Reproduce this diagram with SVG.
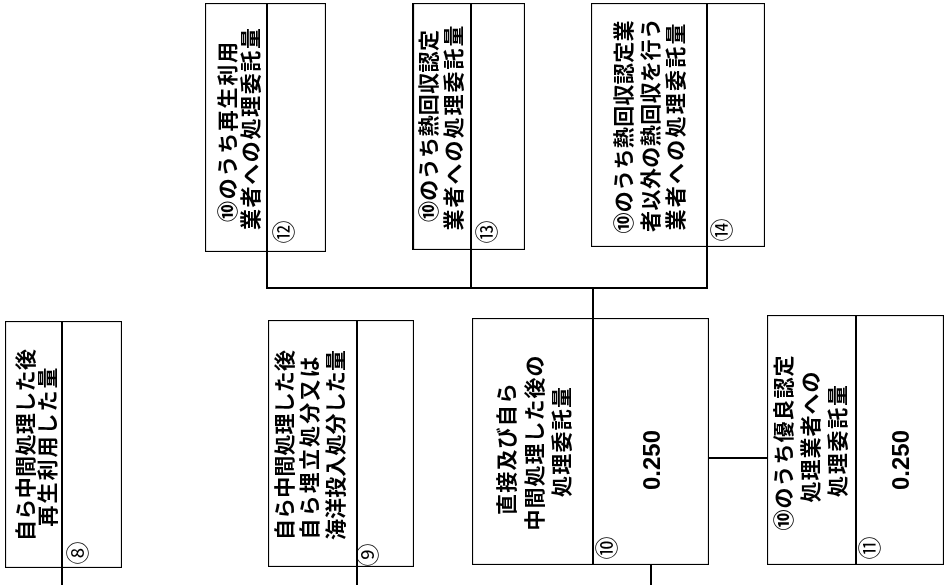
<svg xmlns="http://www.w3.org/2000/svg" width="947" height="585" viewBox="0 0 947 585">
<defs>
<filter id="gray" x="0" y="0" width="1" height="1"><feOffset dx="0" dy="0"/></filter>
</defs>
<style>
.box{fill:none;stroke:#000;stroke-width:2.2}
.ln{fill:none;stroke:#000;stroke-width:2}
.node{opacity:0.995}
.lb{font-family:"Noto Sans CJK JP","Noto Sans CJK SC",sans-serif;font-size:21px;font-weight:bold;fill:#000;text-anchor:middle;dominant-baseline:central}
.num{font-family:"Noto Sans CJK JP","Noto Sans CJK SC",sans-serif;font-size:23px;fill:#000;text-anchor:middle;dominant-baseline:central}
.val{font-family:"Liberation Sans",Arial,sans-serif;font-size:24px;font-weight:bold;fill:#000;text-anchor:middle;dominant-baseline:central}
</style>
<rect width="947" height="585" fill="#fff"/>
<g id="connectors">
<path class="ln" d="M62 568V585"/>
<path class="ln" d="M357 567V585"/>
<path class="ln" d="M651 565V585"/>
<path class="ln" d="M709 458H767"/>
<path class="ln" d="M267 252V288H707V247"/>
<path class="ln" d="M471 250V288"/>
<path class="ln" d="M593 288V318"/>
</g>
<g id="node8" class="node" filter="url(#gray)">
<rect class="box" x="5" y="321" width="117" height="247"/>
<path class="ln" d="M62 321V568"/>
<text class="lb" transform="translate(24,445) rotate(-90)" textLength="192" lengthAdjust="spacing">自ら中間処理した後</text>
<text class="lb" transform="translate(46,447) rotate(-90)" textLength="159" lengthAdjust="spacing">再生利用した量</text>
<text class="num" transform="translate(76,553) rotate(-90)">⑧</text>
</g>
<g id="node9" class="node" filter="url(#gray)">
<rect class="box" x="268" y="320" width="146" height="247"/>
<path class="ln" d="M357 320V567"/>
<text class="lb" transform="translate(283,445) rotate(-90)" textLength="190" lengthAdjust="spacing">自ら中間処理した後</text>
<text class="lb" transform="translate(308,448) rotate(-90)" textLength="183" lengthAdjust="spacing">自ら埋立処分又は</text>
<text class="lb" transform="translate(334,445) rotate(-90)" textLength="190" lengthAdjust="spacing">海洋投入処分した量</text>
<text class="num" transform="translate(366,555) rotate(-90)">⑨</text>
</g>
<g id="node10" class="node" filter="url(#gray)">
<rect class="box" x="472" y="318" width="237" height="247"/>
<path class="ln" d="M593 318V565"/>
<text class="lb" transform="translate(505,449) rotate(-90)" textLength="132" lengthAdjust="spacing">直接及び自ら</text>
<text class="lb" transform="translate(533,443) rotate(-90)" textLength="175" lengthAdjust="spacing">中間処理した後の</text>
<text class="lb" transform="translate(560,442) rotate(-90)" textLength="110" lengthAdjust="spacing">処理委託量</text>
<text class="val" transform="translate(651,460) rotate(-90)">0.250</text>
<text class="num" transform="translate(605,548) rotate(-90)">⑩</text>
</g>
<g id="node11" class="node" filter="url(#gray)">
<rect class="box" x="767" y="315" width="177" height="250"/>
<path class="ln" d="M856 315V565"/>
<text class="lb" transform="translate(782,443) rotate(-90)" textLength="175" lengthAdjust="spacing">⑩のうち優良認定</text>
<text class="lb" transform="translate(809,437) rotate(-90)" textLength="131" lengthAdjust="spacing">処理業者への</text>
<text class="lb" transform="translate(836,441) rotate(-90)" textLength="112" lengthAdjust="spacing">処理委託量</text>
<text class="val" transform="translate(900,460) rotate(-90)">0.250</text>
<text class="num" transform="translate(868,548) rotate(-90)">⑪</text>
</g>
<g id="node12" class="node" filter="url(#gray)">
<rect class="box" x="205" y="3" width="121" height="249"/>
<path class="ln" d="M267 3V252"/>
<text class="lb" transform="translate(226,132) rotate(-90)" textLength="180" lengthAdjust="spacing">⑩のうち再生利用</text>
<text class="lb" transform="translate(249,129) rotate(-90)" textLength="202" lengthAdjust="spacing">業者への処理委託量</text>
<text class="num" transform="translate(282,232) rotate(-90)">⑫</text>
</g>
<g id="node13" class="node" filter="url(#gray)">
<rect class="box" x="413" y="3" width="112" height="247"/>
<path class="ln" d="M471 3V250"/>
<text class="lb" transform="translate(427,126) rotate(-90)" textLength="192" lengthAdjust="spacing">⑩のうち熱回収認定</text>
<text class="lb" transform="translate(452,128) rotate(-90)" textLength="205" lengthAdjust="spacing">業者への処理委託量</text>
<text class="num" transform="translate(485,232) rotate(-90)">⑬</text>
</g>
<g id="node14" class="node" filter="url(#gray)">
<rect class="box" x="591" y="3" width="174" height="244"/>
<path class="ln" d="M707 3V247"/>
<text class="lb" transform="translate(622,127) rotate(-90)" textLength="213" lengthAdjust="spacing">⑩のうち熱回収認定業</text>
<text class="lb" transform="translate(649,125) rotate(-90)" textLength="214" lengthAdjust="spacing">者以外の熱回収を行う</text>
<text class="lb" transform="translate(674,127) rotate(-90)" textLength="207" lengthAdjust="spacing">業者への処理委託量</text>
<text class="num" transform="translate(720,230) rotate(-90)">⑭</text>
</g>
</svg>
